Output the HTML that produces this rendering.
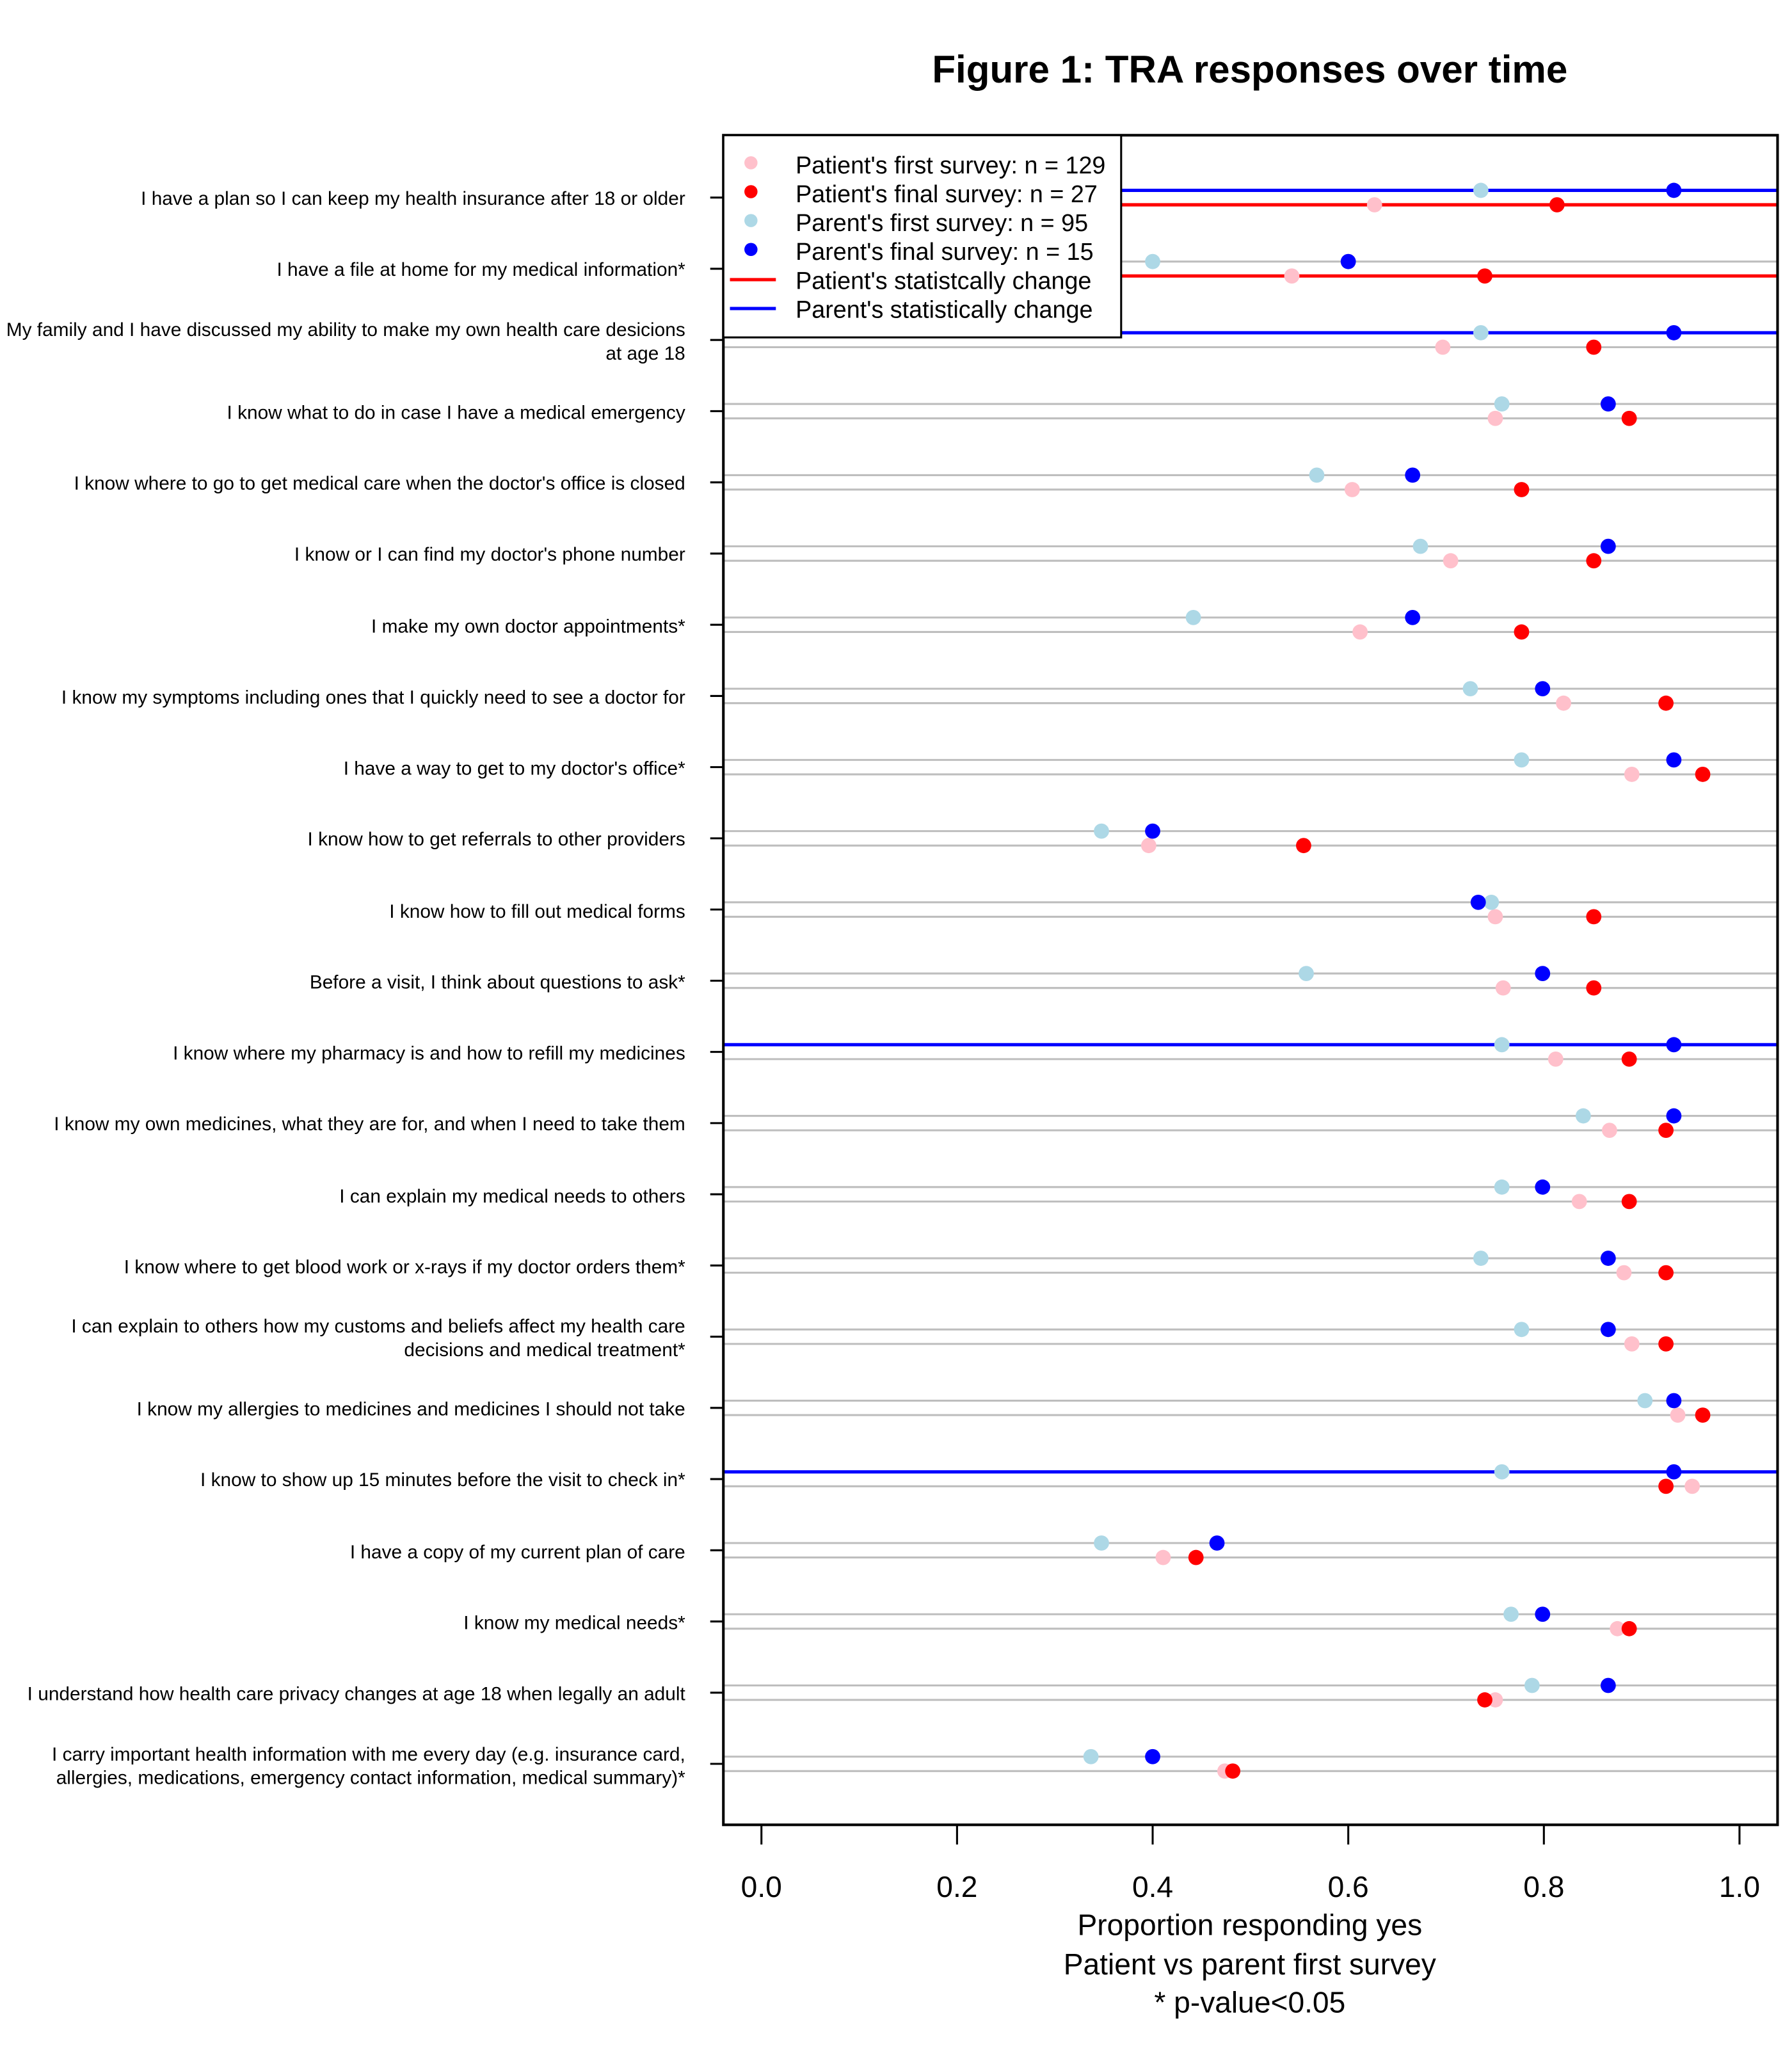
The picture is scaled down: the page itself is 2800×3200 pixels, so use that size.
<!DOCTYPE html>
<html><head><meta charset="utf-8"><style>html,body{margin:0;padding:0;background:#fff}svg{display:block}</style></head>
<body>
<svg id="s" xmlns="http://www.w3.org/2000/svg" width="2800" height="3200" viewBox="0 0 1365 1560" preserveAspectRatio="none" font-family="Liberation Sans, Arial, sans-serif">
<rect width="1365" height="1560" fill="#fff"/>
<text x="952" y="63" font-size="29.3" font-weight="bold" text-anchor="middle">Figure 1: TRA responses over time</text>
<g id="grid"></g>
<g id="stat"></g>
<g id="pts"></g>
<rect x="551" y="103" width="803" height="1287" fill="none" stroke="#000" stroke-width="2"/>
<g id="ticks" stroke="#000" stroke-width="1.5"></g>
<g font-size="22.5" text-anchor="middle">
<text x="580" y="1445">0.0</text><text x="729" y="1445">0.2</text><text x="878" y="1445">0.4</text><text x="1027" y="1445">0.6</text><text x="1176" y="1445">0.8</text><text x="1325" y="1445">1.0</text>
<text x="952" y="1474">Proportion responding yes</text>
<text x="952" y="1504">Patient vs parent first survey</text>
<text x="952" y="1533">* p-value&lt;0.05</text>
</g>
<g font-size="14.55" text-anchor="end">
<text x="522" y="156">I have a plan so I can keep my health insurance after 18 or older</text>
<text x="522" y="210">I have a file at home for my medical information*</text>
<text x="522" y="256">My family and I have discussed my ability to make my own health care desicions</text>
<text x="522" y="274">at age 18</text>
<text x="522" y="319">I know what to do in case I have a medical emergency</text>
<text x="522" y="373">I know where to go to get medical care when the doctor's office is closed</text>
<text x="522" y="427">I know or I can find my doctor's phone number</text>
<text x="522" y="482">I make my own doctor appointments*</text>
<text x="522" y="536">I know my symptoms including ones that I quickly need to see a doctor for</text>
<text x="522" y="590">I have a way to get to my doctor's office*</text>
<text x="522" y="644">I know how to get referrals to other providers</text>
<text x="522" y="699">I know how to fill out medical forms</text>
<text x="522" y="753">Before a visit, I think about questions to ask*</text>
<text x="522" y="807">I know where my pharmacy is and how to refill my medicines</text>
<text x="522" y="861">I know my own medicines, what they are for, and when I need to take them</text>
<text x="522" y="916">I can explain my medical needs to others</text>
<text x="522" y="970">I know where to get blood work or x-rays if my doctor orders them*</text>
<text x="522" y="1015">I can explain to others how my customs and beliefs affect my health care</text>
<text x="522" y="1033">decisions and medical treatment*</text>
<text x="522" y="1078">I know my allergies to medicines and medicines I should not take</text>
<text x="522" y="1132">I know to show up 15 minutes before the visit to check in*</text>
<text x="522" y="1187">I have a copy of my current plan of care</text>
<text x="522" y="1241">I know my medical needs*</text>
<text x="522" y="1295">I understand how health care privacy changes at age 18 when legally an adult</text>
<text x="522" y="1341">I carry important health information with me every day (e.g. insurance card,</text>
<text x="522" y="1359">allergies, medications, emergency contact information, medical summary)*</text>
</g>
<rect x="551" y="103" width="303" height="154" fill="#fff" stroke="#000" stroke-width="1.5"/>
<circle cx="572" cy="124" r="5" fill="pink"/>
<circle cx="572" cy="146" r="5" fill="red"/>
<circle cx="572" cy="168" r="5" fill="lightblue"/>
<circle cx="572" cy="190" r="5" fill="blue"/>
<line x1="556" y1="213" x2="591" y2="213" stroke="red" stroke-width="2.5"/>
<line x1="556" y1="235" x2="591" y2="235" stroke="blue" stroke-width="2.5"/>
<g font-size="18.4">
<text x="606" y="132">Patient's first survey: n = 129</text>
<text x="606" y="154">Patient's final survey: n = 27</text>
<text x="606" y="176">Parent's first survey: n = 95</text>
<text x="606" y="198">Parent's final survey: n = 15</text>
<text x="606" y="220">Patient's statistcally change</text>
<text x="606" y="242">Parent's statistically change</text>
</g>
<script>
(function(){
var NS="http://www.w3.org/2000/svg";
function el(p,t,a){var e=document.createElementNS(NS,t);for(var k in a)e.setAttribute(k,a[k]);document.getElementById(p).appendChild(e);return e;}
var d=[[1128,1275,1047,1186],[878,1027,984,1131],[1128,1275,1099,1214],[1144,1225,1139,1241],[1003,1076,1030,1159],[1082,1225,1105,1214],[909,1076,1036,1159],[1120,1175,1191,1269],[1159,1275,1243,1297],[839,878,875,993],[1136,1126,1139,1214],[995,1175,1145,1214],[1144,1275,1185,1241],[1206,1275,1226,1269],[1144,1175,1203,1241],[1128,1225,1237,1269],[1159,1225,1243,1269],[1253,1275,1278,1297],[1144,1275,1289,1269],[839,927,886,911],[1151,1175,1232,1241],[1167,1225,1139,1131],[831,878,933,939]];
var blue=[0,2,12,18], red=[0,1];
for(var i=0;i<23;i++){
 var y=145+54.23*i;
 el("grid","line",{x1:551,x2:1354,y1:y,y2:y,stroke:"#bebebe","stroke-width":1.5});
 el("grid","line",{x1:551,x2:1354,y1:y+11,y2:y+11,stroke:"#bebebe","stroke-width":1.5});
 if(blue.indexOf(i)>=0)el("stat","line",{x1:551,x2:1354,y1:y,y2:y,stroke:"blue","stroke-width":2.5});
 if(red.indexOf(i)>=0)el("stat","line",{x1:551,x2:1354,y1:y+11,y2:y+11,stroke:"red","stroke-width":2.5});
 var r=d[i];
 el("pts","circle",{cx:r[2],cy:y+11,r:5.8,fill:"pink"});
 el("pts","circle",{cx:r[3],cy:y+11,r:5.8,fill:"red"});
 el("pts","circle",{cx:r[0],cy:y,r:5.8,fill:"lightblue"});
 el("pts","circle",{cx:r[1],cy:y,r:5.8,fill:"blue"});
 el("ticks","line",{x1:541,x2:551,y1:y+5.5,y2:y+5.5});
}
for(var j=0;j<6;j++){var x=580+149*j;el("ticks","line",{x1:x,x2:x,y1:1390,y2:1405});}
})();
</script>
</svg>
</body></html>
